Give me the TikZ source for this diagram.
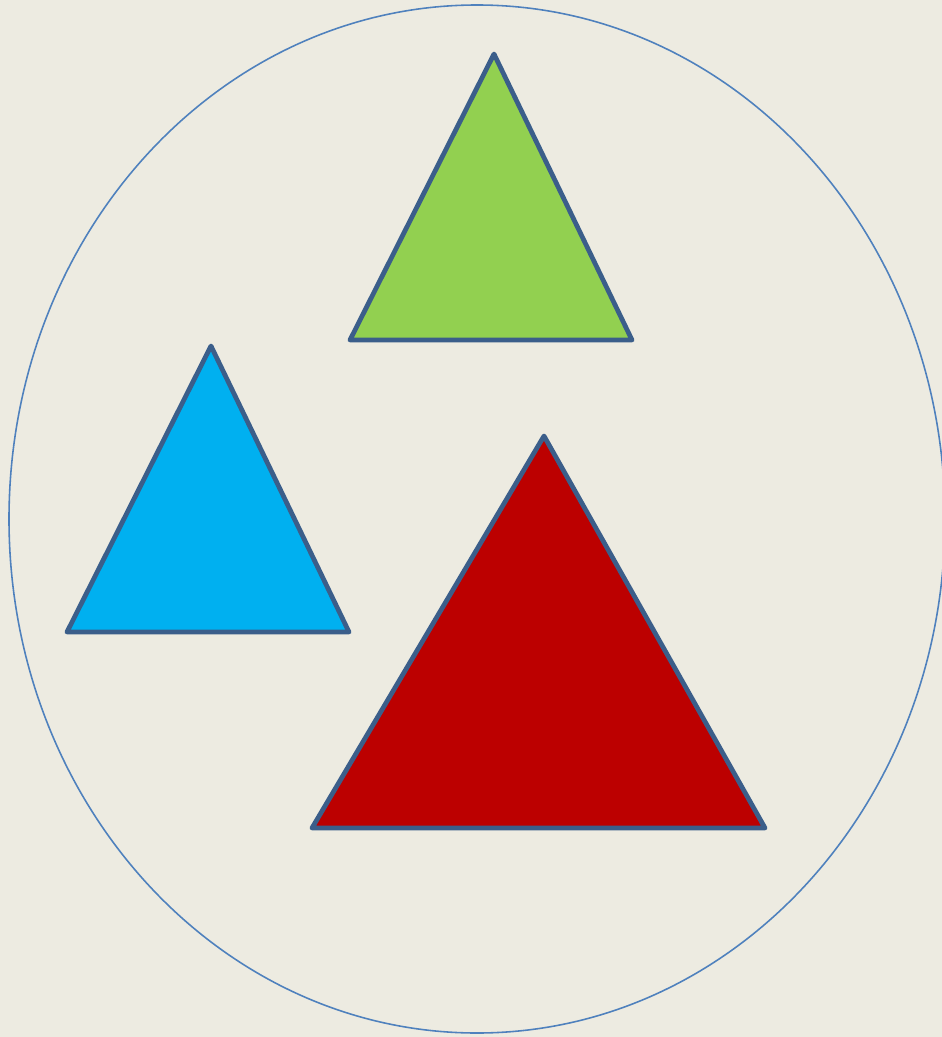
\documentclass[tikz,border=0pt]{standalone}
\usepackage{tikz}
\definecolor{paper}{RGB}{237,235,225}
\definecolor{rim}{RGB}{79,129,189}
\definecolor{edge}{RGB}{59,94,138}
\definecolor{leaf}{RGB}{146,208,80}
\definecolor{sky}{RGB}{0,176,240}
\definecolor{brick}{RGB}{188,0,0}

\begin{document}
\begin{tikzpicture}[x=.02cm,y=-.02cm,
 oval/.style={draw=rim,line width=.9pt},
 tri/.style={draw=edge,line width=2.7pt,line join=round,line cap=round}]
\fill[paper] (0,0) rectangle (942,1037);
\useasboundingbox (0,0) rectangle (942,1037);
\draw[oval] (477,519) ellipse [x radius=468,y radius=514];
% green
\draw[tri,fill=leaf] (494,54)--(632,340)--(350,340)--cycle;
% blue
\draw[tri,fill=sky] (211,346)--(349,632)--(67,632)--cycle;
% red
\draw[tri,fill=brick] (544,436)--(765,828)--(312,828)--cycle;
\end{tikzpicture}
\end{document}
